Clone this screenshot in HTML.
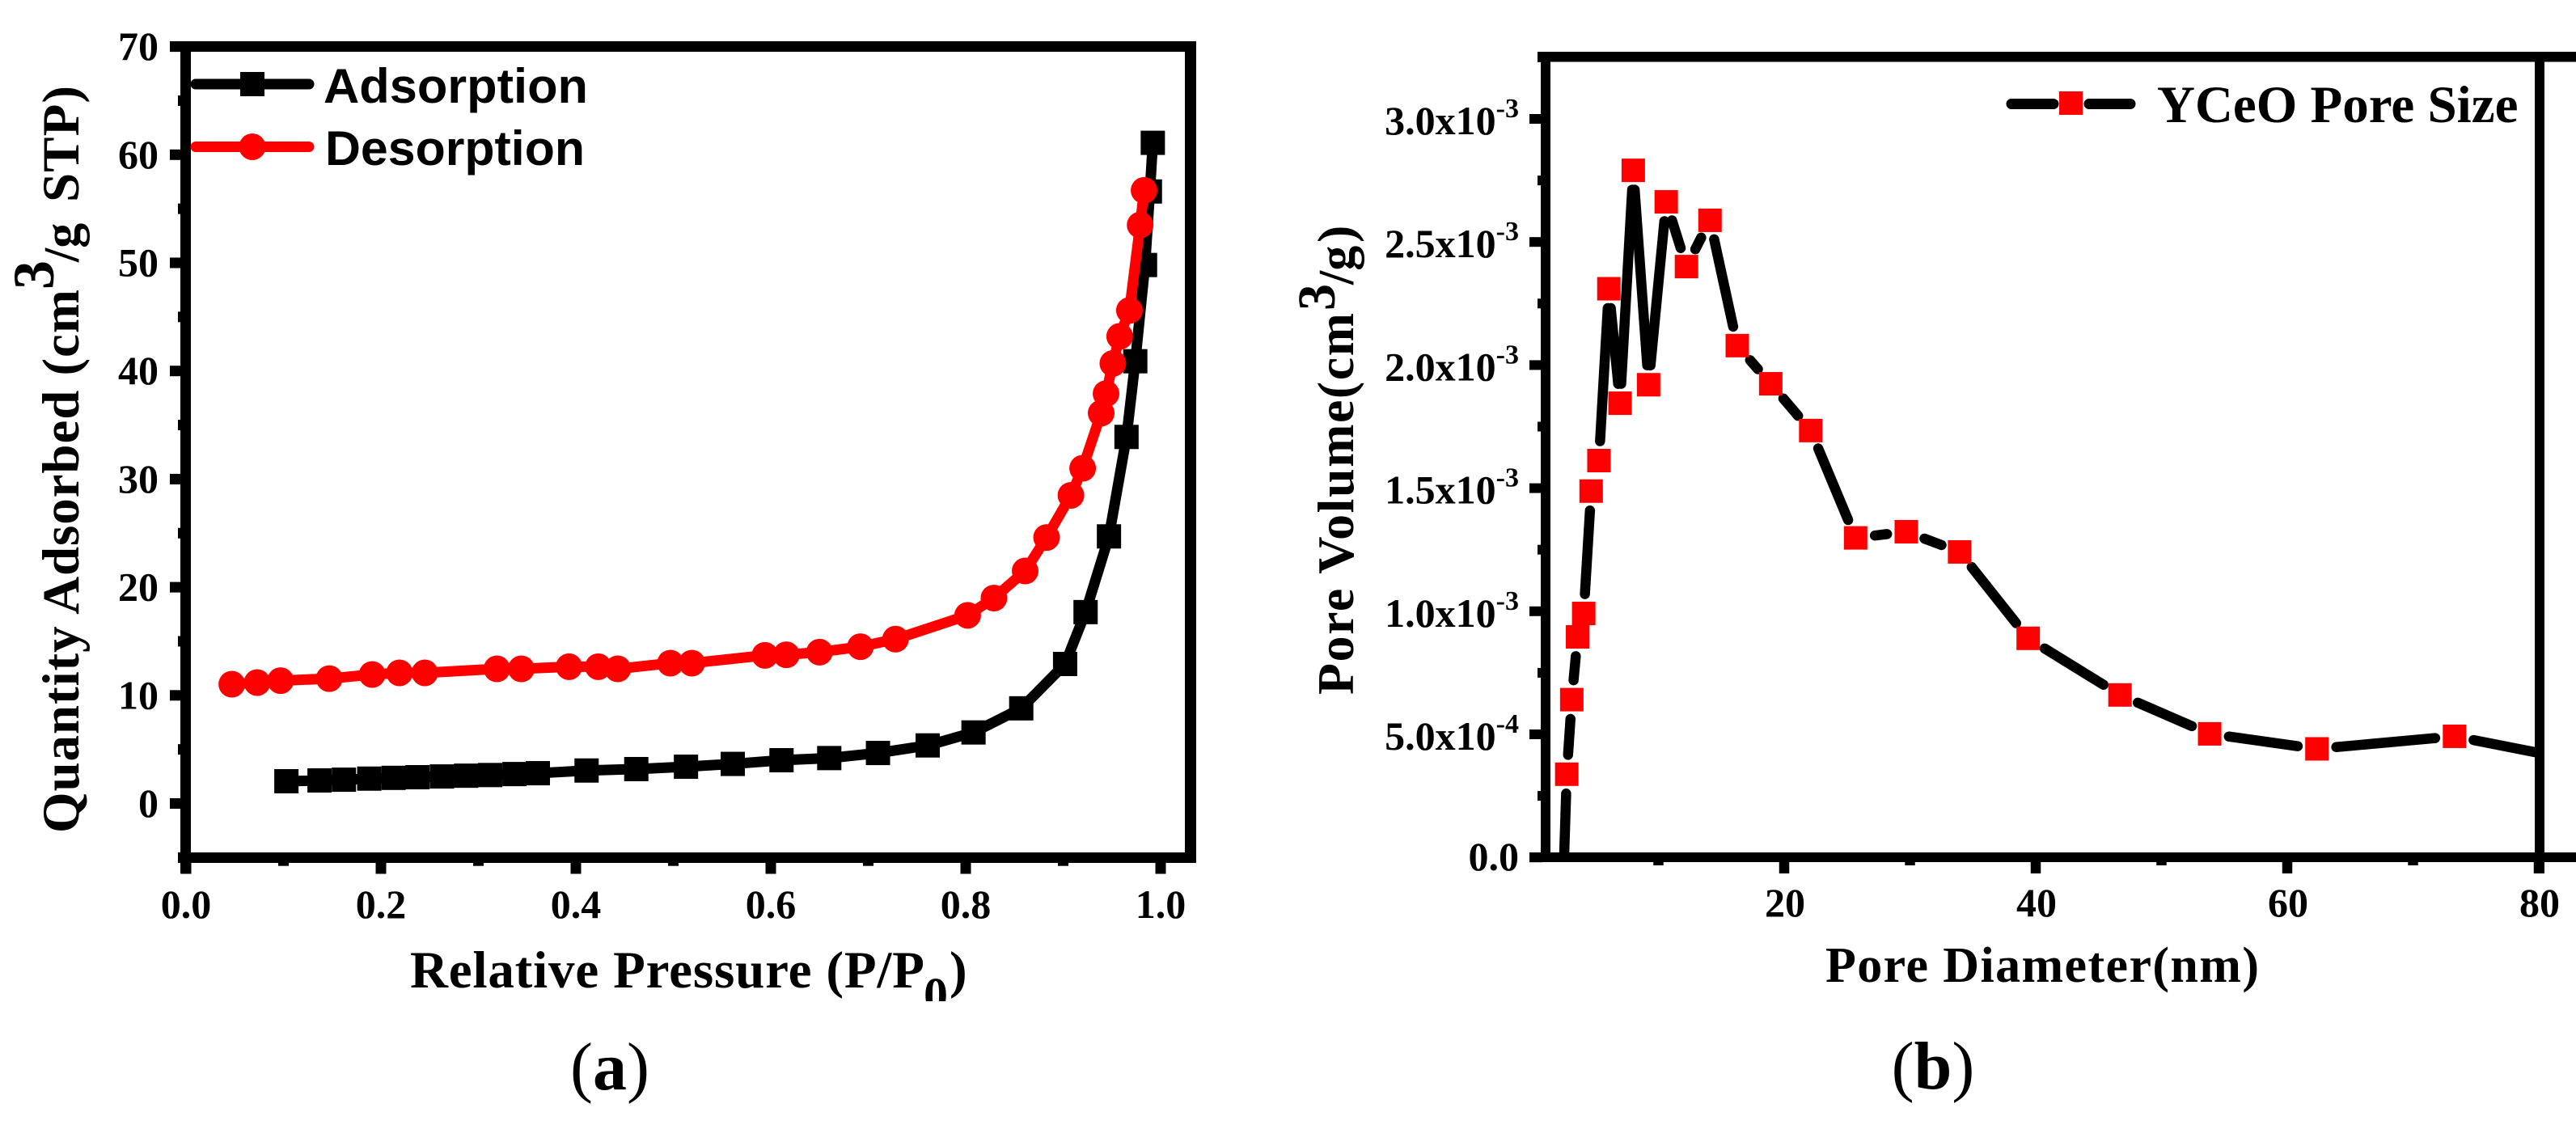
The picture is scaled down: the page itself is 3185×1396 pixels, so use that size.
<!DOCTYPE html>
<html lang="en">
<head>
<meta charset="utf-8">
<title>YCeO isotherm and pore size distribution</title>
<style>
html,body{margin:0;padding:0;background:#fff;}
svg{display:block;}
text{font-family:"Liberation Serif",serif;font-weight:bold;fill:#000;}
.sans{font-family:"Liberation Sans",sans-serif;}
.reg{font-weight:normal;}
</style>
</head>
<body>
<svg id="figure" xmlns="http://www.w3.org/2000/svg" width="3185" height="1396" viewBox="0 0 3185 1396">
<defs>
<clipPath id="clip-b"><rect x="1917" y="76" width="1217" height="978"/></clipPath>
<clipPath id="clip-sub"><rect x="1130" y="1190" width="60" height="48"/></clipPath>
</defs>
<rect x="0" y="0" width="3185" height="1396" fill="#fff"/>

<g id="panel-a">
<g id="a-marks"></g>
<g id="a-axes"></g>
<g>
<g>
<line x1="242" y1="104" x2="382" y2="104" stroke="#000" stroke-width="13" stroke-linecap="round"/>
<rect x="297" y="89" width="30" height="30" fill="#000"/>
<text class="sans" x="400" y="127" font-size="60" textLength="327" lengthAdjust="spacingAndGlyphs">Adsorption</text>
</g>
<g>
<line x1="242" y1="181.5" x2="382" y2="181.5" stroke="#f00" stroke-width="13" stroke-linecap="round"/>
<circle cx="312" cy="181.5" r="16.5" fill="#f00"/>
<text class="sans" x="402" y="204" font-size="60" textLength="321" lengthAdjust="spacingAndGlyphs">Desorption</text>
</g>
</g>
<text x="507" y="1221" font-size="65" textLength="636" lengthAdjust="spacing">Relative Pressure (P/P</text>
<g clip-path="url(#clip-sub)"><text x="1142" y="1250.5" font-size="60">0</text></g>
<text x="1174" y="1221" font-size="65">)</text>
<text transform="translate(97,1030) rotate(-90)" font-size="65" textLength="672" lengthAdjust="spacing">Quantity Adsorbed (cm</text>
<text transform="translate(66,358) rotate(-90)" font-size="72">3</text>
<text transform="translate(97,324) rotate(-90)" font-size="62">/g</text>
<text transform="translate(97,250) rotate(-90)" font-size="65" textLength="144" lengthAdjust="spacing">STP)</text>
<text x="754" y="1347" font-size="84" text-anchor="middle"><tspan class="reg" font-weight="normal">(</tspan>a<tspan class="reg" font-weight="normal">)</tspan></text>
</g>

<g id="panel-b">
<g id="b-marks"></g>
<g id="b-axes"></g>
<g>
<line x1="2487" y1="128.5" x2="2539" y2="128.5" stroke="#000" stroke-width="13" stroke-linecap="round"/>
<line x1="2583" y1="128.5" x2="2634" y2="128.5" stroke="#000" stroke-width="13" stroke-linecap="round"/>
<rect x="2546" y="113" width="29" height="29" fill="#f00"/>
<text x="2667" y="151" font-size="65">YCeO Pore Size</text>
</g>
<text x="2257" y="1214" font-size="62" textLength="536" lengthAdjust="spacing">Pore Diameter(nm)</text>
<text transform="translate(1673,859) rotate(-90)" font-size="64" textLength="472" lengthAdjust="spacing">Pore Volume(cm</text>
<text transform="translate(1650,384) rotate(-90)" font-size="66">3</text>
<text transform="translate(1673,352) rotate(-90)" font-size="62">/g</text>
<text transform="translate(1673,300) rotate(-90)" font-size="64">)</text>
<text x="2390" y="1346" font-size="84" text-anchor="middle"><tspan class="reg" font-weight="normal">(</tspan>b<tspan class="reg" font-weight="normal">)</tspan></text>
</g>
</svg>

<script>
const NS = 'http://www.w3.org/2000/svg';

// Panel (a) data
const adsorptionPressure = [0.103,0.137,0.162,0.188,0.213,0.2375,0.2626,0.2874,0.312,0.337,0.361,0.411,0.462,0.513,0.561,0.611,0.66,0.71,0.761,0.808,0.857,0.902,0.923,0.947,0.965,0.974,0.984,0.989,0.992];
const adsorptionQuantity = [2.06,2.13,2.2,2.3,2.37,2.43,2.5,2.57,2.63,2.72,2.8,3.05,3.18,3.4,3.66,4.0,4.2,4.67,5.37,6.57,8.8,12.9,17.7,24.7,33.9,40.9,49.8,56.6,61.1];
const desorptionPressure = [0.047,0.073,0.097,0.147,0.191,0.219,0.245,0.319,0.344,0.393,0.423,0.443,0.497,0.519,0.594,0.616,0.65,0.692,0.728,0.802,0.829,0.861,0.883,0.908,0.92,0.939,0.944,0.951,0.958,0.968,0.979,0.983];
const desorptionQuantity = [11.03,11.18,11.36,11.55,11.93,12.08,12.08,12.45,12.45,12.65,12.65,12.45,12.98,12.98,13.7,13.75,14,14.5,15.2,17.4,19,21.5,24.6,28.5,31,36.1,37.9,40.7,43.2,45.6,53.5,56.7];
const aXMajorTicks = [0,0.2,0.4,0.6,0.8,1.0];
const aXMinorTicks = [0.1,0.3,0.5,0.7,0.9];
const aXTickLabels = ['0.0','0.2','0.4','0.6','0.8','1.0'];
const aYMajorTicks = [0,10,20,30,40,50,60,70];
const aYMinorTicks = [-5,5,15,25,35,45,55,65];

// Panel (b) data, volume in units of 1e-3 cm3/g
const poreDiameter = [2.5,2.71,3.11,3.57,4.06,4.65,5.27,6.06,6.95,8.0,9.22,10.62,12.23,14.1,16.27,18.93,22.11,25.68,29.71,33.95,39.4,46.7,53.83,62.36,73.3,85];
const poreVolume = [0,0.338,0.641,0.896,0.991,1.488,1.612,2.31,1.845,2.791,1.92,2.663,2.4,2.588,2.079,1.924,1.734,1.298,1.323,1.241,0.89,0.66,0.502,0.441,0.492,0.374];
const bXMajorTicks = [20,40,60,80];
const bXMinorTicks = [10,30,50,70];
const bXTickLabels = ['20','40','60','80'];
const bYMajorTicks = [0,0.5,1.0,1.5,2.0,2.5,3.0];
const bYMinorTicks = [0.25,0.75,1.25,1.75,2.25,2.75,3.25];
const bYMantissas = ['0.0','5.0x10','1.0x10','1.5x10','2.0x10','2.5x10','3.0x10'];
const bYExponents = ['','-4','-3','-3','-3','-3','-3'];

const ax = v => 230 + v * 1205;
const ay = v => 993.5 - v * 13.37;
const bx = v => 1895 + v * 15.55;
const by = v => 1060.2 - v * 304.4;

function mk(parent, tag, attrs, text) {
  const el = document.createElementNS(NS, tag);
  for (const k in attrs) el.setAttribute(k, attrs[k]);
  if (text !== undefined) el.textContent = text;
  parent.appendChild(el);
  return el;
}
function fmt(n) { return String(Math.round(n * 100) / 100); }

const aMarks = document.getElementById('a-marks');
const aAxes = document.getElementById('a-axes');
const bMarks = document.getElementById('b-marks');
const bAxes = document.getElementById('b-axes');

/* Panel (a) series */
const adsLine = mk(aMarks, 'polyline', {points: adsorptionPressure.map((x, i) => fmt(ax(x)) + ',' + fmt(ay(adsorptionQuantity[i]))).join(' '), fill: 'none', stroke: '#000', 'stroke-width': 13, 'stroke-linejoin': 'round'});


adsorptionPressure.forEach((x, i) => {
  const p = mk(aMarks, 'rect', {x: fmt(ax(x) - 15), y: fmt(ay(adsorptionQuantity[i]) - 15), width: 30, height: 30, fill: '#000'});
  
  
});
const desLine = mk(aMarks, 'polyline', {points: desorptionPressure.map((x, i) => fmt(ax(x)) + ',' + fmt(ay(desorptionQuantity[i]))).join(' '), fill: 'none', stroke: '#f00', 'stroke-width': 13, 'stroke-linejoin': 'round'});


desorptionPressure.forEach((x, i) => {
  const p = mk(aMarks, 'circle', {cx: fmt(ax(x)), cy: fmt(ay(desorptionQuantity[i])), r: 16.5, fill: '#f00'});
  
  
});

/* Panel (a) axes */
const aFrame = [
  ['axis-top-a', 210, 51, 1269, 13],
  ['axis-bottom-a', 220, 1054, 1259, 13],
  ['axis-left-a', 223, 51, 13, 1029],
  ['axis-right-a', 1465, 51, 14, 1016]
];
aFrame.forEach(f => {
  const r = mk(aAxes, 'rect', {x: f[1], y: f[2], width: f[3], height: f[4], fill: '#000'});
  
  
});
aXMajorTicks.forEach((v, i) => {
  const t = mk(aAxes, 'rect', {x: fmt(ax(v) - 6.5), y: 1060, width: 13, height: 20.5, fill: '#000'});
  
  
  const l = mk(aAxes, 'text', {x: fmt(ax(v)), y: 1135, 'font-size': 50, 'text-anchor': 'middle'}, aXTickLabels[i]);
  
  
});
aXMinorTicks.forEach(v => {
  const t = mk(aAxes, 'rect', {x: fmt(ax(v) - 6.5), y: 1060, width: 13, height: 10.7, fill: '#000'});
  
  
});
aYMajorTicks.forEach(v => {
  const t = mk(aAxes, 'rect', {x: 210, y: fmt(ay(v) - 6.5), width: 20, height: 13, fill: '#000'});
  
  
  const l = mk(aAxes, 'text', {x: 196, y: fmt(ay(v) + 16.5), 'font-size': 50, 'text-anchor': 'end'}, String(v));
  
  
});
aYMinorTicks.forEach(v => {
  const t = mk(aAxes, 'rect', {x: 220, y: fmt(ay(v) - 6.5), width: 10, height: 13, fill: '#000'});
  
  
});

/* Panel (b) series: line segments stop short of each marker */
const gap = 24;
const bLines = mk(bMarks, 'g', {'clip-path': 'url(#clip-b)'});


for (let i = 0; i < poreDiameter.length - 1; i++) {
  const x1 = bx(poreDiameter[i]), y1 = by(poreVolume[i]);
  const x2 = bx(poreDiameter[i + 1]), y2 = by(poreVolume[i + 1]);
  const len = Math.hypot(x2 - x1, y2 - y1);
  const startGap = i === 0 ? 0 : gap;
  const endGap = i === poreDiameter.length - 2 ? 0 : gap;
  if (len <= startGap + endGap) continue;
  const ux = (x2 - x1) / len, uy = (y2 - y1) / len;
  const seg = mk(bLines, 'line', {x1: fmt(x1 + ux * startGap), y1: fmt(y1 + uy * startGap), x2: fmt(x2 - ux * endGap), y2: fmt(y2 - uy * endGap), stroke: '#000', 'stroke-width': 12.5, 'stroke-linecap': 'round'});
  
  
}
poreDiameter.forEach((x, i) => {
  if (i === 0 || i === poreDiameter.length - 1) return;
  const p = mk(bMarks, 'rect', {x: fmt(bx(x) - 14.5), y: fmt(by(poreVolume[i]) - 14.5), width: 29, height: 29, fill: '#f00'});
  
  
});

/* Panel (b) axes */
const bFrame = [
  ['axis-top-b', 1901, 64, 2245, 12.5],
  ['axis-bottom-b', 1891, 1054, 2255, 12],
  ['axis-left-b', 1905, 64, 12, 996],
  ['axis-right-b', 3134, 64, 12, 1016]
];
bFrame.forEach(f => {
  const r = mk(bAxes, 'rect', {x: f[1], y: f[2], width: f[3], height: f[4], fill: '#000'});
  
  
});
bXMajorTicks.forEach((v, i) => {
  const t = mk(bAxes, 'rect', {x: fmt(bx(v) - 6.25), y: 1060, width: 12.5, height: 20, fill: '#000'});
  
  
  const l = mk(bAxes, 'text', {x: fmt(bx(v) + 1), y: 1133, 'font-size': 50, 'text-anchor': 'middle'}, bXTickLabels[i]);
  
  
});
bXMinorTicks.forEach(v => {
  const t = mk(bAxes, 'rect', {x: fmt(bx(v) - 6.25), y: 1060, width: 12.5, height: 10, fill: '#000'});
  
  
});
bYMajorTicks.forEach((v, i) => {
  const t = mk(bAxes, 'rect', {x: 1891, y: fmt(by(v) - 6), width: 16, height: 12, fill: '#000'});
  
  
  const l = mk(bAxes, 'text', {x: 1878, y: fmt(by(v) + (v === 0 ? 16 : 19)), 'font-size': 50, 'text-anchor': 'end'}, bYMantissas[i]);
  
  
  if (bYExponents[i]) {
    const e = mk(l, 'tspan', {dy: -21, 'font-size': 34}, bYExponents[i]);
    
    
  }
});
bYMinorTicks.forEach(v => {
  const t = mk(bAxes, 'rect', {x: 1901, y: fmt(by(v) - 6), width: 6, height: 12, fill: '#000'});
  
  
});
</script>
</body>
</html>
